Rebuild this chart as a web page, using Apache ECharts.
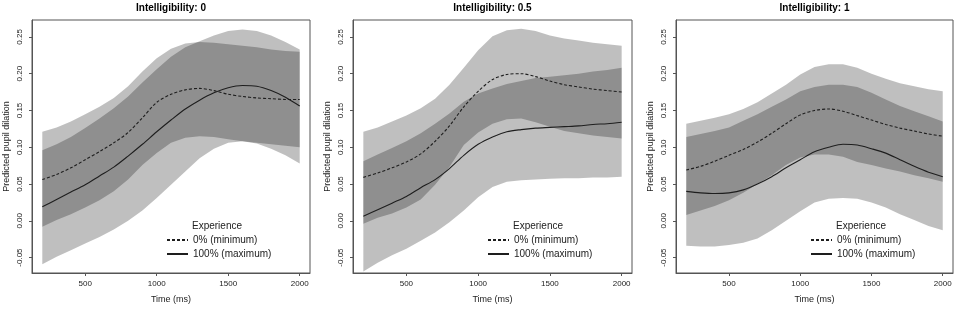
<!DOCTYPE html>
<html><head><meta charset="utf-8">
<script src="https://cdn.jsdelivr.net/npm/echarts@6/dist/echarts.min.js"></script>
<style>html,body{margin:0;padding:0;background:#fff}#c{width:957px;height:309px}</style>
</head><body><div id="c"></div>
<script>
// ---- data ----
const time = [200,300,400,500,600,700,800,900,1000,1100,1200,1300,1400,1500,1600,1700,1800,1900,2000];
const panelTitles = ['Intelligibility: 0','Intelligibility: 0.5','Intelligibility: 1'];
const legendTitle = 'Experience';
const legendNames = ['0% (minimum)','100% (maximum)'];
const xTicks = [500,1000,1500,2000];
const yTicks = [-0.05,0,0.05,0.10,0.15,0.20,0.25];

// Panel 1 (Intelligibility 0)
const p1MinFit = [0.056,0.063,0.072,0.083,0.094,0.106,0.120,0.140,0.161,0.172,0.178,0.180,0.177,0.172,0.169,0.167,0.166,0.165,0.165];
const p1MinHi  = [0.121,0.127,0.135,0.145,0.155,0.167,0.183,0.203,0.221,0.234,0.241,0.243,0.242,0.240,0.238,0.236,0.233,0.231,0.230];
const p1MinLo  = [-0.008,0.001,0.009,0.018,0.028,0.040,0.056,0.076,0.092,0.106,0.113,0.115,0.114,0.111,0.108,0.106,0.104,0.102,0.100];
const p1MaxFit = [0.019,0.029,0.039,0.049,0.061,0.073,0.088,0.104,0.121,0.137,0.152,0.164,0.174,0.181,0.184,0.183,0.177,0.168,0.156];
const p1MaxHi  = [0.096,0.104,0.114,0.126,0.139,0.153,0.169,0.188,0.206,0.223,0.236,0.244,0.252,0.258,0.260,0.258,0.252,0.243,0.233];
const p1MaxLo  = [-0.059,-0.049,-0.040,-0.031,-0.022,-0.012,0.000,0.014,0.031,0.049,0.067,0.085,0.098,0.106,0.108,0.105,0.098,0.089,0.078];

// Panel 2 (Intelligibility 0.5)
const p2MinFit = [0.059,0.065,0.072,0.080,0.091,0.108,0.129,0.155,0.176,0.192,0.199,0.200,0.196,0.190,0.185,0.182,0.179,0.177,0.175];
const p2MinHi  = [0.121,0.127,0.135,0.143,0.153,0.166,0.185,0.208,0.232,0.251,0.259,0.261,0.258,0.252,0.248,0.245,0.242,0.240,0.238];
const p2MinLo  = [-0.004,0.004,0.010,0.018,0.029,0.049,0.073,0.103,0.120,0.132,0.138,0.139,0.134,0.128,0.122,0.119,0.116,0.114,0.112];
const p2MaxFit = [0.006,0.015,0.024,0.033,0.045,0.056,0.071,0.089,0.104,0.114,0.121,0.124,0.126,0.127,0.128,0.129,0.131,0.132,0.134];
const p2MaxHi  = [0.081,0.090,0.099,0.108,0.119,0.132,0.146,0.162,0.173,0.180,0.186,0.190,0.194,0.196,0.198,0.200,0.203,0.205,0.208];
const p2MaxLo  = [-0.069,-0.057,-0.047,-0.038,-0.027,-0.016,-0.002,0.014,0.032,0.046,0.053,0.055,0.056,0.057,0.058,0.058,0.059,0.059,0.060];

// Panel 3 (Intelligibility 1)
const p3MinFit = [0.069,0.074,0.081,0.089,0.097,0.107,0.119,0.132,0.144,0.150,0.152,0.149,0.143,0.137,0.131,0.126,0.122,0.118,0.115];
const p3MinHi  = [0.132,0.136,0.140,0.145,0.152,0.161,0.173,0.185,0.199,0.209,0.213,0.213,0.208,0.200,0.193,0.187,0.183,0.179,0.176];
const p3MinLo  = [0.008,0.014,0.020,0.028,0.038,0.050,0.062,0.076,0.086,0.090,0.090,0.087,0.080,0.076,0.071,0.067,0.062,0.058,0.053];
const p3MaxFit = [0.040,0.038,0.037,0.038,0.042,0.050,0.060,0.072,0.083,0.094,0.100,0.104,0.103,0.098,0.092,0.083,0.074,0.066,0.060];
const p3MaxHi  = [0.114,0.118,0.122,0.127,0.136,0.145,0.155,0.165,0.176,0.182,0.185,0.185,0.182,0.174,0.165,0.156,0.149,0.142,0.135];
const p3MaxLo  = [-0.034,-0.035,-0.035,-0.033,-0.030,-0.024,-0.013,0.000,0.013,0.025,0.030,0.031,0.030,0.025,0.018,0.009,0.001,-0.007,-0.013];

// ---- layout & style ----
const FONT = '"Liberation Sans", Arial, Helvetica, sans-serif';
const TXT = '#222';
const BOX = '#555';
const grids = [
  {left: 32,  top: 20, width: 278, height: 257},
  {left: 353, top: 20, width: 279, height: 257},
  {left: 676, top: 20, width: 277, height: 257}
];
const panels = [
  {minFit: p1MinFit, minLo: p1MinLo, minHi: p1MinHi, maxFit: p1MaxFit, maxLo: p1MaxLo, maxHi: p1MaxHi},
  {minFit: p2MinFit, minLo: p2MinLo, minHi: p2MinHi, maxFit: p2MaxFit, maxLo: p2MaxLo, maxHi: p2MaxHi},
  {minFit: p3MinFit, minLo: p3MinLo, minHi: p3MinHi, maxFit: p3MaxFit, maxLo: p3MaxLo, maxHi: p3MaxHi}
];

function bandSeries(idx, lo, hi) {
  return {
    type: 'custom', xAxisIndex: idx, yAxisIndex: idx, silent: true, z: 1,
    data: time.map((t, i) => [t, lo[i], hi[i]]),
    encode: {x: 0, y: [1, 2]},
    renderItem: function (params, api) {
      if (params.dataIndexInside !== 0) return null;
      const n = params.dataInsideLength;
      const up = [], dn = [];
      for (let i = 0; i < n; i++) {
        up.push(api.coord([api.value(0, i), api.value(2, i)]));
        dn.push(api.coord([api.value(0, i), api.value(1, i)]));
      }
      return {
        type: 'polygon',
        shape: {points: up.concat(dn.reverse())},
        style: {fill: 'rgba(0,0,0,0.25)', stroke: null}
      };
    }
  };
}
function lineSeries(idx, name, fit, dashed) {
  return {
    type: 'line', name: name, xAxisIndex: idx, yAxisIndex: idx, silent: true, z: 3,
    data: time.map((t, i) => [t, fit[i]]),
    symbol: 'none', smooth: 0.3,
    lineStyle: {color: '#1e1e1e', width: 1.1, type: dashed ? [3, 2] : 'solid'},
    itemStyle: {color: '#1e1e1e'}
  };
}

const option = {
  animation: false,
  backgroundColor: '#fff',
  textStyle: {fontFamily: FONT},
  grid: grids.map(g => Object.assign({show: true, borderColor: BOX, borderWidth: 1, backgroundColor: 'transparent', containLabel: false}, g)),
  xAxis: grids.map((g, i) => ({
    type: 'value', gridIndex: i, min: 128, max: 2072, position: 'bottom',
    axisLine: {show: true, onZero: false, lineStyle: {color: BOX, width: 1}},
    axisTick: {show: true, length: 3, customValues: xTicks, lineStyle: {color: BOX, width: 1}},
    axisLabel: {customValues: xTicks, fontSize: 8, color: TXT, margin: 7, fontFamily: FONT,
      formatter: v => String(v)},
    splitLine: {show: false},
    name: 'Time (ms)', nameLocation: 'middle', nameGap: 22,
    nameTextStyle: {fontSize: 9, color: TXT, fontFamily: FONT}
  })),
  yAxis: grids.map((g, i) => ({
    type: 'value', gridIndex: i, min: -0.071, max: 0.273, position: 'left',
    axisLine: {show: true, onZero: false, lineStyle: {color: BOX, width: 1}},
    axisTick: {show: true, length: 3, customValues: yTicks, lineStyle: {color: BOX, width: 1}},
    axisLabel: {customValues: yTicks, rotate: 90, fontSize: 8, color: TXT, margin: 8, fontFamily: FONT,
      formatter: v => v.toFixed(2)},
    splitLine: {show: false},
    name: 'Predicted pupil dilation', nameLocation: 'middle', nameGap: 21,
    nameTextStyle: {fontSize: 9, color: TXT, fontFamily: FONT}
  })),
  legend: grids.map(g => ({
    data: legendNames, orient: 'vertical', left: g.left + 134, top: 235,
    itemWidth: 21, itemHeight: 10, itemGap: 4, selectedMode: false, padding: 0,
    itemStyle: {opacity: 0},
    textStyle: {fontSize: 10, color: TXT, fontFamily: FONT}
  })),
  graphic: grids.map((g, i) => ({
    type: 'text', x: g.left + g.width / 2, y: 8,
    style: {text: panelTitles[i], font: 'bold 10px ' + FONT, fill: '#000', align: 'center', verticalAlign: 'middle'}
  })).concat(grids.map(g => ({
    type: 'text', x: g.left + 160, y: 226,
    style: {text: legendTitle, font: '10px ' + FONT, fill: TXT, align: 'left', verticalAlign: 'middle'}
  }))),
  series: []
};
panels.forEach((p, i) => {
  option.series.push(bandSeries(i, p.minLo, p.minHi));
  option.series.push(bandSeries(i, p.maxLo, p.maxHi));
});
panels.forEach((p, i) => {
  option.series.push(lineSeries(i, legendNames[0], p.minFit, true));
  option.series.push(lineSeries(i, legendNames[1], p.maxFit, false));
});

const chart = echarts.init(document.getElementById('c'), null, {renderer: 'canvas'});
chart.setOption(option);
</script>
</body></html>
